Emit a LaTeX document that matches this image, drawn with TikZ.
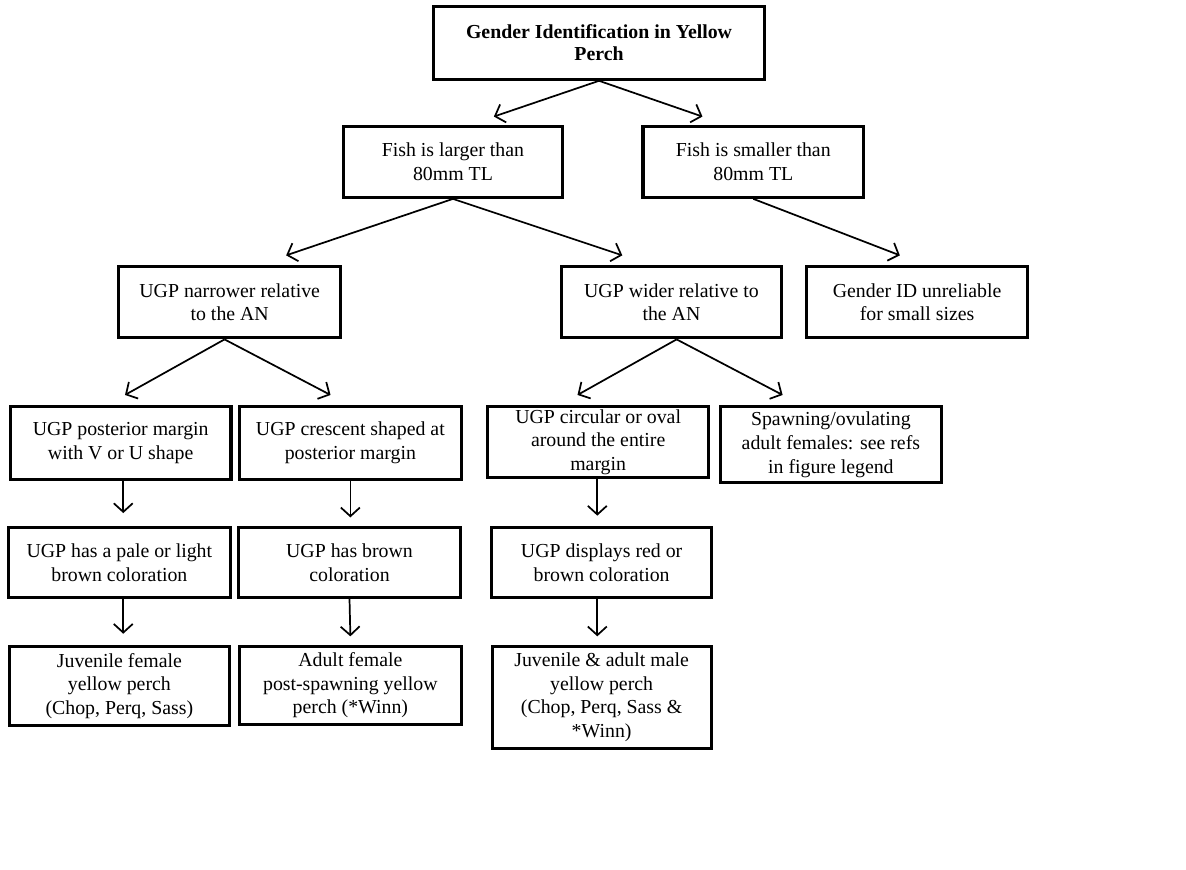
\documentclass[tikz,border=0pt]{standalone}
\usepackage{fontspec}
\setmainfont{Liberation Serif}
\usetikzlibrary{arrows.meta}
\tikzset{
  box/.style={draw, line width=3.5pt, inner sep=0pt, align=center,
    font=\fontsize{23}{27.5}\selectfont, fill=white},
  conn/.style={line width=2pt, -{Straight Barb[length=10pt,width=22pt,line width=2pt]}}
}
\begin{document}
\begin{tikzpicture}[x=1pt,y=-1pt]
\useasboundingbox[fill=white] (0,0) rectangle (1376,1009);
% row 1
\node[box, minimum width=384pt, minimum height=85pt, font=\fontsize{23}{26}\selectfont\bfseries] (title) at (695,49.5) {Gender Identification in Yellow\\Perch};
% row 2
\node[box, minimum width=255pt, minimum height=82pt] (larger) at (525.5,188) {Fish is larger than\\80mm TL};
\node[box, minimum width=256pt, minimum height=82pt] (smaller) at (874,188) {Fish is smaller than\\80mm TL};
% row 3
\node[box, minimum width=257pt, minimum height=83pt] (narrow) at (266.5,350.5) {UGP narrower relative\\to the AN};
\node[box, minimum width=256pt, minimum height=83pt] (wider) at (779,350.5) {UGP wider relative to\\the AN};
\node[box, minimum width=256pt, minimum height=83pt] (unrel) at (1064,350.5) {Gender ID unreliable\\for small sizes};
% row 4
\node[box, minimum width=256pt, minimum height=84pt] (vu) at (140,514) {UGP posterior margin\\with V or U shape};
\node[box, minimum width=257pt, minimum height=84pt] (cres) at (406.5,514) {UGP crescent shaped at\\posterior margin};
\node[box, minimum width=256pt, minimum height=82pt] (circ) at (694,513) {UGP circular or oval\\around the entire\\margin};
\node[box, minimum width=256pt, minimum height=88pt] (spawn) at (964,516) {Spawning/ovulating\\adult females: see refs\\in figure legend};
% row 5
\node[box, minimum width=257pt, minimum height=81pt] (pale) at (138.5,652.5) {UGP has a pale or light\\brown coloration};
\node[box, minimum width=257pt, minimum height=81pt] (brown) at (405.5,652.5) {UGP has brown\\coloration};
\node[box, minimum width=256pt, minimum height=81pt] (red) at (698,652.5) {UGP displays red or\\brown coloration};
% row 6
\node[box, minimum width=255pt, minimum height=92pt] (juvf) at (138.5,796) {Juvenile female\\yellow perch\\(Chop, Perq, Sass)};
\node[box, minimum width=257pt, minimum height=90pt] (adf) at (406.5,795) {Adult female\\post-spawning yellow\\perch (*Winn)};
\node[box, minimum width=254pt, minimum height=118pt] (male) at (698,809) {Juvenile \& adult male\\yellow perch\\(Chop, Perq, Sass \&\\*Winn)};
% connectors
\draw[conn] (title.south) -- ([xshift=47.5pt,yshift=10pt]larger.north);
\draw[conn] (title.south) -- ([xshift=-59pt,yshift=10pt]smaller.north);
\draw[conn] (larger.south) -- ([xshift=65.5pt,yshift=11pt]narrow.north);
\draw[conn] (larger.south) -- ([xshift=-57pt,yshift=11pt]wider.north);
\draw[conn] (smaller.south) -- ([xshift=-20pt,yshift=11pt]unrel.north);
\draw[conn] ([xshift=-6pt]narrow.south) -- ([xshift=5pt,yshift=12pt]vu.north);
\draw[conn] ([xshift=-6pt]narrow.south) -- ([xshift=-23pt,yshift=12pt]cres.north);
\draw[conn] ([xshift=6pt]wider.south) -- ([xshift=-24pt,yshift=12pt]circ.north);
\draw[conn] ([xshift=6pt]wider.south) -- ([xshift=-56pt,yshift=12pt]spawn.north);
\draw[conn] ([xshift=3pt]vu.south) -- ([xshift=4.5pt,yshift=15pt]pale.north);
\draw[conn] (cres.south) -- ([xshift=1pt,yshift=10pt]brown.north);
\draw[conn] ([xshift=-1pt]circ.south) -- ([xshift=-5pt,yshift=12pt]red.north);
\draw[conn] ([xshift=4.5pt]pale.south) -- ([xshift=4.5pt,yshift=13pt]juvf.north);
\draw[conn] (brown.south) -- ([xshift=0pt,yshift=10pt]adf.north);
\draw[conn] ([xshift=-5pt]red.south) -- ([xshift=-5pt,yshift=10pt]male.north);
\end{tikzpicture}
\end{document}
